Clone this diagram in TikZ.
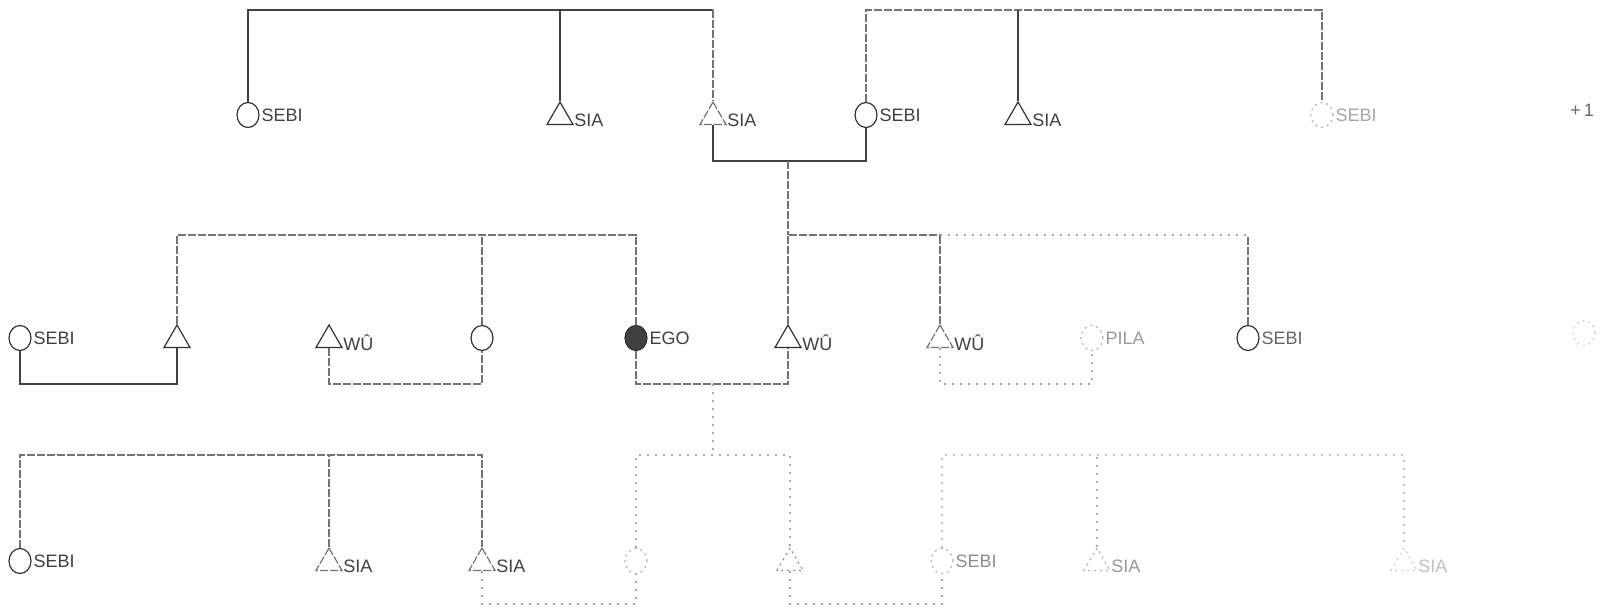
\documentclass[tikz,border=0pt]{standalone}
\usepackage{fontspec}
\setmainfont{Liberation Sans}
\usetikzlibrary{shapes.geometric}
\tikzset{
  fem/.style={ellipse, draw=black!80, line width=0.6pt, minimum width=11pt,
    minimum height=12.5pt, inner sep=0pt},
  mal/.style={regular polygon, regular polygon sides=3, draw=black!80,
    line width=0.6pt, minimum size=15pt, inner sep=0pt},
  lbl/.style={font=\fontsize{9}{10}\selectfont, text=black!75, inner sep=0.8pt},
  mlbl/.style={lbl, xshift=1.5pt, yshift=-1.5pt},
  kin/.style={draw=black!75, line width=0.6pt},
  dim/.style={draw=black!55, line width=0.6pt, dash pattern=on 4pt off 1pt},
  pale/.style={draw=black!35, line width=0.6pt, dash pattern=on 1pt off 3pt},
  ghost/.style={draw=black!30, dash pattern=on 1pt off 2pt}
}

\begin{document}
\begin{tikzpicture}[x=0.5pt, y=-0.5pt]
  \useasboundingbox (0,0) rectangle (1604,608);
  % bar levels
  \coordinate (ytop) at (0,10);
  \coordinate (ymtop) at (0,161);
  \coordinate (ymid) at (0,235);
  \coordinate (ymmid) at (0,384);
  \coordinate (ybot) at (0,455);
  \coordinate (ymbot) at (0,604);
  \coordinate (dsc) at (713,384);

  % generation +1
  \node[fem, label={[lbl]right:SEBI}] (t1) at (248,115) {};
  \node[mal, label={[mlbl]right:SIA}] (t2) at (560,117) {};
  \node[mal, dim, label={[mlbl]right:SIA}] (t3) at (713,117) {};
  \node[fem, label={[lbl]right:SEBI}] (t4) at (866,115) {};
  \node[mal, label={[mlbl]right:SIA}] (t5) at (1018,117) {};
  \node[fem, ghost, label={[lbl, text=black!35]right:SEBI}] (t6) at (1322,115) {};
  \node[lbl, text=black!60] (gen) at (1582,110) {+\,1};

  % generation 0
  \node[fem, label={[lbl]right:SEBI}] (m1) at (20,338) {};
  \node[mal] (m2) at (177,340) {};
  \node[mal, label={[mlbl]right:WÛ}] (m3) at (329,340) {};
  \node[fem] (m4) at (482,338) {};
  \node[fem, fill=black!75, label={[lbl]right:EGO}] (ego) at (636,338) {};
  \node[mal, label={[mlbl]right:WÛ}] (m6) at (788,340) {};
  \node[mal, dim, label={[mlbl]right:WÛ}] (m7) at (940,340) {};
  \node[fem, ghost, label={[lbl, text=black!40]right:PILA}] (m8) at (1092,338) {};
  \node[fem, label={[lbl, text=black!60]right:SEBI}] (m9) at (1248,338) {};
  \node[fem, ghost, draw=black!20] (m10) at (1584,333) {};

  % generation -1
  \node[fem, label={[lbl]right:SEBI}] (b1) at (20,561) {};
  \node[mal, dim, label={[mlbl]right:SIA}] (b2) at (329,563) {};
  \node[mal, dim, label={[mlbl]right:SIA}] (b3) at (482,563) {};
  \node[fem, ghost] (b4) at (636,561) {};
  \node[mal, ghost, draw=black!45] (b5) at (790,563) {};
  \node[fem, ghost, label={[lbl, text=black!45]right:SEBI}] (b6) at (942,561) {};
  \node[mal, ghost, label={[mlbl, text=black!40]right:SIA}] (b7) at (1097,563) {};
  \node[mal, ghost, draw=black!20, label={[mlbl, text=black!25]right:SIA}] (b8) at (1404,563) {};

  % sibling bars, top
  \draw[kin] (t1.north) -- (t1 |- ytop) -- (t3 |- ytop);
  \draw[kin] (t2.north) -- (t2 |- ytop);
  \draw[dim] (t3 |- ytop) -- (t3.north);
  \draw[dim] (t4.north) -- (t4 |- ytop) -- (t6 |- ytop) -- (t6.north);
  \draw[kin] (t5.north) -- (t5 |- ytop);
  % marriage and descent to ego's generation
  \draw[kin] (t3.south) -- (t3 |- ymtop) -- (t4 |- ymtop) -- (t4.south);
  \draw[dim] (m6 |- ymtop) -- (m6 |- ymid);

  % sibling bars, middle
  \draw[dim] (m2.north) -- (m2 |- ymid) -- (ego |- ymid) -- (ego.north);
  \draw[dim] (m4.north) -- (m4 |- ymid);
  \draw[dim] (m6.north) -- (m6 |- ymid) -- (m7 |- ymid);
  \draw[pale] (m7 |- ymid) -- (m9 |- ymid);
  \draw[dim] (m7.north) -- (m7 |- ymid);
  \draw[dim] (m9.north) -- (m9 |- ymid);
  % marriages, middle
  \draw[kin] (m1.south) -- (m1 |- ymmid) -- (m2 |- ymmid) -- (m2.south);
  \draw[dim] (m3.south) -- (m3 |- ymmid) -- (m4 |- ymmid) -- (m4.south);
  \draw[dim] (ego.south) -- (ego |- ymmid) -- (m6 |- ymmid) -- (m6.south);
  \draw[pale] (m7.south) -- (m7 |- ymmid) -- (m8 |- ymmid) -- (m8.south);
  \draw[pale] (dsc) -- (dsc |- ybot);

  % sibling bars, bottom
  \draw[dim] (b1.north) -- (b1 |- ybot) -- (b3 |- ybot) -- (b3.north);
  \draw[dim] (b2.north) -- (b2 |- ybot);
  \draw[pale] (b4.north) -- (b4 |- ybot) -- (b5 |- ybot) -- (b5.north);
  \draw[pale, draw=black!25] (b6.north) -- (b6 |- ybot) -- (b8 |- ybot) -- (b8.north);
  \draw[pale, draw=black!30] (b7.north) -- (b7 |- ybot);
  % marriages, bottom
  \draw[pale] (b3.south) -- (b3 |- ymbot) -- (b4 |- ymbot) -- (b4.south);
  \draw[pale] (b5.south) -- (b5 |- ymbot) -- (b6 |- ymbot) -- (b6.south);
\end{tikzpicture}
\end{document}
